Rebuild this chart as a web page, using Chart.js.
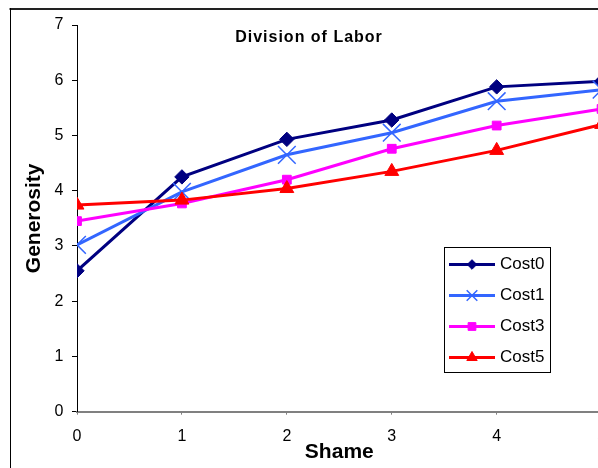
<!DOCTYPE html>
<html>
<head>
<meta charset="utf-8">
<script src="https://cdn.jsdelivr.net/npm/chart.js@4/dist/chart.umd.min.js"></script>
<style>
html,body{margin:0;padding:0;overflow:hidden;background:#fff;width:598px;height:468px}
#wrap{position:relative;width:620px;height:468px}
canvas{display:block}
</style>
</head>
<body>
<div id="wrap"><canvas id="c" width="620" height="468"></canvas></div>
<script>
// ---- data ----
const chartTitle = 'Division of Labor';
const xTitle = 'Shame';
const yTitle = 'Generosity';
const shame = [0, 1, 2, 3, 4, 5];
const seriesNames = ['Cost0', 'Cost1', 'Cost3', 'Cost5'];
const cost0 = [2.55, 4.25, 4.93, 5.28, 5.88, 5.98];
const cost1 = [3.02, 3.98, 4.65, 5.05, 5.62, 5.83];
const cost3 = [3.45, 3.77, 4.20, 4.76, 5.18, 5.48];
const cost5 = [3.74, 3.83, 4.04, 4.35, 4.73, 5.20];
const xMin = 0, xMax = 5, yMin = 0, yMax = 7;

// ---- styles ----
const FONT = '"Liberation Sans", Arial, Helvetica, sans-serif';
Chart.defaults.font.family = FONT;
Chart.defaults.color = '#000';

const styles = [
  {color: '#000080', pointStyle: 'rectRot',  radius: 7.2, legendRadius: 4.8, pbw: 1},
  {color: '#3366FF', pointStyle: 'crossRot', radius: 12.5, legendRadius: 7.5, pbw: 1.5},
  {color: '#FF00FF', pointStyle: 'rect',     radius: 6.2, legendRadius: 5.5, pbw: 1},
  {color: '#FF0000', pointStyle: 'triangle', radius: 8,   legendRadius: 6,   pbw: 1}
];
const allValues = [cost0, cost1, cost3, cost5];

const datasets = seriesNames.map((name, i) => ({
  label: name,
  data: shame.map((x, j) => ({x: x, y: allValues[i][j]})),
  borderColor: styles[i].color,
  backgroundColor: styles[i].color,
  pointBackgroundColor: styles[i].color,
  pointBorderColor: styles[i].color,
  pointBorderWidth: styles[i].pbw,
  borderWidth: 3,
  pointStyle: styles[i].pointStyle,
  pointRadius: styles[i].radius,
  pointHoverRadius: styles[i].radius,
  tension: 0,
  fill: false,
  order: seriesNames.length - i,
  legendRadius: styles[i].legendRadius
}));

function drawMarker(ctx, style, radius, x, y, color, bw) {
  ctx.save();
  ctx.fillStyle = color;
  ctx.strokeStyle = color;
  ctx.lineWidth = bw;
  if (Chart.helpers && Chart.helpers.drawPoint) {
    Chart.helpers.drawPoint(ctx, {pointStyle: style, radius: radius, rotation: 0, borderWidth: bw}, x, y);
  } else {
    ctx.beginPath();
    if (style === 'rectRot') {
      ctx.moveTo(x - radius, y); ctx.lineTo(x, y - radius); ctx.lineTo(x + radius, y); ctx.lineTo(x, y + radius); ctx.closePath(); ctx.fill(); ctx.stroke();
    } else if (style === 'rect') {
      const s = radius * Math.SQRT1_2; ctx.rect(x - s, y - s, 2 * s, 2 * s); ctx.fill(); ctx.stroke();
    } else if (style === 'triangle') {
      ctx.moveTo(x, y - radius); ctx.lineTo(x + radius * 0.866, y + radius / 2); ctx.lineTo(x - radius * 0.866, y + radius / 2); ctx.closePath(); ctx.fill(); ctx.stroke();
    } else {
      const s = radius * Math.SQRT1_2; ctx.moveTo(x - s, y - s); ctx.lineTo(x + s, y + s); ctx.moveTo(x + s, y - s); ctx.lineTo(x - s, y + s); ctx.stroke();
    }
  }
  ctx.restore();
}

const framePlugin = {
  id: 'frame',
  beforeDraw(chart) {
    const ctx = chart.ctx;
    ctx.save();
    ctx.fillStyle = '#fff';
    ctx.fillRect(0, 0, chart.width, chart.height);
    ctx.strokeStyle = '#222';
    ctx.lineWidth = 2;
    ctx.beginPath(); ctx.moveTo(9.5, 9); ctx.lineTo(chart.width, 9); ctx.stroke();
    ctx.strokeStyle = '#000';
    ctx.lineWidth = 1;
    ctx.beginPath(); ctx.moveTo(10.5, 8); ctx.lineTo(10.5, chart.height); ctx.stroke();
    ctx.restore();
  },
  afterDraw(chart) {
    const ctx = chart.ctx;
    // title
    ctx.save();
    ctx.fillStyle = '#000';
    ctx.font = 'bold 16px ' + FONT;
    if ('letterSpacing' in ctx) ctx.letterSpacing = '1px';
    ctx.textAlign = 'center';
    ctx.textBaseline = 'alphabetic';
    ctx.fillText(chartTitle, 309, 41.7);
    ctx.restore();
    // legend
    ctx.save();
    const lx = 444.5, ly = 247.5, lw = 106, lh = 125;
    ctx.fillStyle = '#fff';
    ctx.fillRect(lx, ly, lw, lh);
    ctx.strokeStyle = '#000';
    ctx.lineWidth = 1;
    ctx.strokeRect(lx, ly, lw, lh);
    chart.data.datasets.forEach((ds, i) => {
      const y = 264.5 + i * 31;
      ctx.strokeStyle = ds.borderColor;
      ctx.lineWidth = 3;
      ctx.beginPath(); ctx.moveTo(449, y); ctx.lineTo(495, y); ctx.stroke();
      drawMarker(ctx, ds.pointStyle, ds.legendRadius, 472, y, ds.borderColor, ds.pointBorderWidth);
      ctx.fillStyle = '#000';
      ctx.font = '17px ' + FONT;
      ctx.textAlign = 'left';
      ctx.textBaseline = 'middle';
      ctx.fillText(ds.label, 500, y);
    });
    ctx.restore();
  }
};

new Chart(document.getElementById('c'), {
  type: 'line',
  data: {datasets: datasets},
  plugins: [framePlugin],
  options: {
    responsive: false,
    animation: false,
    devicePixelRatio: 1,
    layout: {padding: {left: 0, top: 25, right: 620 - 601.6, bottom: 0}},
    plugins: {legend: {display: false}, title: {display: false}, tooltip: {enabled: false}},
    scales: {
      x: {
        type: 'linear', min: xMin, max: xMax,
        ticks: {stepSize: 1, font: {size: 16}, color: '#000', padding: 12, maxRotation: 0, autoSkip: false},
        grid: {display: true, drawOnChartArea: false, drawTicks: true, tickLength: 3, color: '#808080', lineWidth: 1},
        border: {display: true, color: '#808080', width: 2},
        title: {display: true, text: xTitle, color: '#000', font: {size: 21, weight: 'bold'}, padding: {top: 0, bottom: 3.4}},
        afterFit(s) { s.height = 468 - 411.7; }
      },
      y: {
        type: 'linear', min: yMin, max: yMax,
        ticks: {stepSize: 1, font: {size: 16}, color: '#000', padding: 8.5},
        grid: {display: true, drawOnChartArea: false, drawTicks: true, tickLength: 5, color: '#000', lineWidth: 1},
        border: {display: true, color: '#000', width: 1},
        title: {display: true, text: yTitle, color: '#000', font: {size: 21, weight: 'bold'}, padding: {top: 22, bottom: 0}},
        afterFit(s) { s.width = 77; }
      }
    }
  }
});
</script>
</body>
</html>
